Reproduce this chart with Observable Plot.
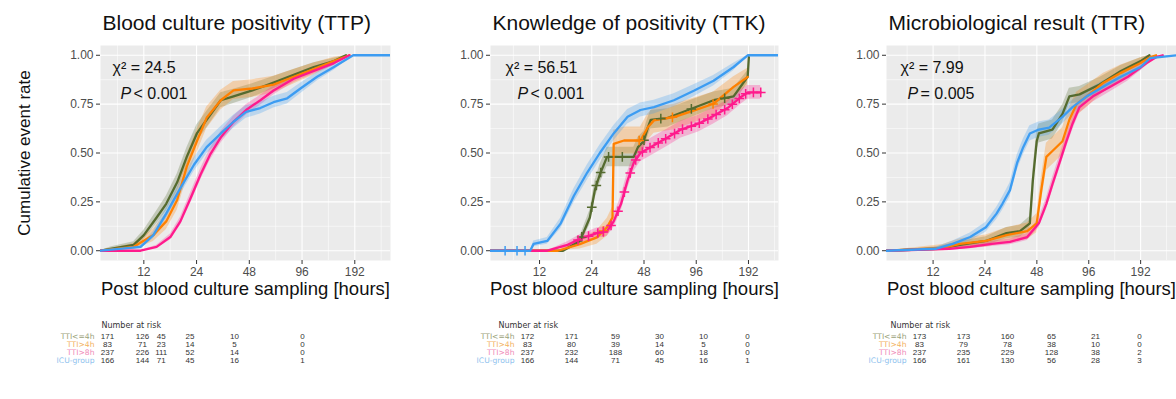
<!DOCTYPE html>
<html><head><meta charset="utf-8">
<script src="https://cdn.jsdelivr.net/npm/d3@7"></script>
<script src="https://cdn.jsdelivr.net/npm/@observablehq/plot@0.6"></script>
<style>
body{margin:0;background:#fff;}
#wrap{position:relative;width:1176px;height:399px;overflow:hidden;background:#fff;}
#wrap svg{position:absolute;overflow:visible;}
</style></head><body><div id="wrap"></div>
<script>
// ---------- data ----------
const groups = ["TTI<=4h", "TTI>4h", "TTI>8h", "ICU-group"];
const lineColors = ["#556b2f", "#ff8000", "#ff1a8c", "#3c9cf2"];
const labelColors = ["#9aa27a", "#f3b25e", "#f08bb8", "#8ec2ee"];
const titles = ["Blood culture positivity (TTP)", "Knowledge of positivity (TTK)", "Microbiological result (TTR)"];
const chiLabels = ["χ² = 24.5", "χ² = 56.51", "χ² = 7.99"];
const pLabels = ["< 0.001", "< 0.001", "= 0.005"];
const xBreaks = [12, 24, 48, 96, 192];
const yBreaks = [0, 0.25, 0.5, 0.75, 1];
const riskTimes = [0, 12, 24, 48, 96, 192];

// Panel 1: TTP (hours, cumulative event rate)
const ttpOliveT  = [6.8, 7.75, 10.5, 12, 14.2, 16.1, 18.6, 21.1, 24.1, 27.4, 33, 39, 50, 66, 86, 112, 146, 171];
const ttpOliveV  = [0, 0.01, 0.03, 0.08, 0.17, 0.24, 0.35, 0.48, 0.60, 0.67, 0.77, 0.79, 0.82, 0.86, 0.90, 0.94, 0.97, 1.0];
const ttpOrangeT = [6.8, 10.5, 13.6, 16.1, 18.6, 21.1, 24.1, 27.4, 33, 39, 50, 66, 86, 112, 146, 179];
const ttpOrangeV = [0, 0.02, 0.08, 0.15, 0.26, 0.43, 0.56, 0.68, 0.77, 0.82, 0.83, 0.85, 0.89, 0.93, 0.97, 1.0];
const ttpPinkT   = [6.8, 11.5, 14.2, 17.0, 19.4, 22.2, 25.3, 28.6, 33, 39, 46, 55.5, 66, 86, 112, 146, 179];
const ttpPinkV   = [0, 0, 0.02, 0.07, 0.15, 0.27, 0.39, 0.49, 0.58, 0.66, 0.72, 0.77, 0.82, 0.88, 0.92, 0.96, 1.0];
const ttpBlueT   = [6.8, 11.5, 13.6, 16.1, 19.4, 23.2, 27.4, 33, 39, 46, 55.5, 66, 79, 94, 117, 146, 188, 307];
const ttpBlueV   = [0, 0.02, 0.08, 0.19, 0.32, 0.44, 0.53, 0.60, 0.66, 0.71, 0.73, 0.76, 0.78, 0.83, 0.89, 0.94, 1.0, 1.0];
const ttpBand    = [0.045, 0.06, 0.03, 0.035];

// Panel 2: TTK
const ttkOliveT  = [6.26, 16.4, 20.5, 23.4, 25.0, 26.7, 29.4, 41.9, 44.3, 47.8, 50.5, 52.5, 65.9, 86.2, 120.8, 157.6, 190, 193];
const ttkOliveV  = [0, 0, 0.05, 0.17, 0.31, 0.39, 0.48, 0.48, 0.53, 0.56, 0.63, 0.67, 0.68, 0.72, 0.77, 0.79, 0.89, 0.99];
const ttkOrangeT = [6.26, 15.3, 20.5, 25.7, 29.4, 31.6, 32.1, 36.8, 45.8, 50.5, 54.8, 71.4, 93.6, 120.8, 157.6, 190];
const ttkOrangeV = [0, 0, 0.034, 0.068, 0.12, 0.17, 0.547, 0.564, 0.564, 0.632, 0.667, 0.684, 0.718, 0.752, 0.838, 0.889];
const ttkPinkT   = [6.26, 13.3, 17.4, 20.5, 25.7, 29.4, 32.1, 35.4, 38.6, 41.9, 45.8, 54.8, 65.9, 78.5, 98.9, 120.8, 145.4, 173, 190, 226];
const ttkPinkV   = [0, 0, 0.03, 0.06, 0.09, 0.10, 0.15, 0.24, 0.36, 0.45, 0.50, 0.54, 0.58, 0.62, 0.65, 0.69, 0.73, 0.785, 0.81, 0.81];
const ttkBlueT   = [6.26, 10.6, 11.1, 13.3, 15.9, 18.9, 22.6, 26.7, 32.1, 38.6, 45.8, 54.8, 71.4, 93.6, 120.8, 157.6, 190, 286];
const ttkBlueV   = [0, 0, 0.035, 0.05, 0.14, 0.28, 0.40, 0.50, 0.60, 0.685, 0.72, 0.735, 0.77, 0.82, 0.87, 0.94, 1.0, 1.0];
const ttkBand    = [0.05, 0.07, 0.045, 0.04];
const ttkOliveCensor  = [21, 24, 25.5, 27, 30, 36, 48, 60, 90, 140];
const ttkOrangeCensor = [28, 45, 70, 120];
const ttkPinkCensor   = [20, 23, 26, 28, 31, 34, 37, 40, 43, 47, 52, 58, 64, 72, 80, 90, 100, 112, 125, 140, 155, 170, 185, 205, 226];
const ttkBlueCensor   = [7.6, 8.9, 9.9];

// Panel 3: TTR
const ttrOliveT  = [6.45, 12.7, 17.2, 24.3, 32.0, 38.3, 43.7, 45.5, 47.9, 49.3, 59.1, 67.6, 74.1, 84.9, 111, 147.5, 192, 216];
const ttrOliveV  = [0, 0.01, 0.03, 0.05, 0.09, 0.10, 0.14, 0.36, 0.56, 0.60, 0.62, 0.70, 0.79, 0.80, 0.85, 0.92, 0.97, 1.0];
const ttrOrangeT = [6.45, 13.7, 17.2, 24.3, 32.0, 42.2, 47.9, 50.9, 54.5, 59.1, 67.6, 74.1, 81.6, 93.5, 116.9, 147.5, 192, 218, 236];
const ttrOrangeV = [0, 0.015, 0.035, 0.05, 0.08, 0.10, 0.14, 0.31, 0.48, 0.51, 0.56, 0.67, 0.75, 0.79, 0.86, 0.91, 0.96, 0.99, 1.0];
const ttrPinkT   = [6.45, 14.9, 19.7, 26.3, 33.5, 42.2, 49.3, 54.5, 59.1, 64.9, 71.2, 77.3, 84.9, 101.5, 128.7, 162.1, 208, 236, 258];
const ttrPinkV   = [0, 0.01, 0.02, 0.035, 0.045, 0.07, 0.14, 0.24, 0.34, 0.45, 0.56, 0.65, 0.735, 0.79, 0.84, 0.89, 0.96, 0.99, 1.0];
const ttrBlueT   = [6.45, 12.4, 15.6, 19.7, 24.3, 28.0, 30.3, 33.5, 36.9, 40.0, 43.7, 49.3, 56.6, 67.6, 77.3, 93.5, 116.9, 147.5, 192, 218, 310];
const ttrBlueV   = [0, 0.01, 0.035, 0.07, 0.12, 0.19, 0.24, 0.31, 0.45, 0.53, 0.60, 0.62, 0.63, 0.685, 0.735, 0.79, 0.84, 0.89, 0.94, 0.985, 1.0];
const ttrBand    = [0.05, 0.07, 0.035, 0.04];

// Number at risk tables (rows = groups, columns = riskTimes)
const ttpRisk = [[171, 126, 45, 25, 10, 0], [83, 71, 23, 14, 5, 0], [237, 226, 111, 52, 14, 0], [166, 144, 71, 45, 16, 1]];
const ttkRisk = [[172, 171, 59, 30, 10, 0], [83, 80, 39, 14, 5, 0], [237, 232, 188, 60, 18, 0], [166, 144, 71, 45, 16, 1]];
const ttrRisk = [[173, 173, 160, 65, 21, 0], [83, 79, 78, 38, 10, 0], [237, 235, 229, 128, 38, 2], [166, 161, 130, 56, 28, 3]];

// ---------- build ----------
const FONT = "'Liberation Sans', Arial, Helvetica, sans-serif";
const WIDE = "'DejaVu Sans', 'Liberation Sans', sans-serif";
const wrap = document.getElementById("wrap");
const PANEL_H = 305, M_TOP = 45, M_BOTTOM = 45, FRAME_H = PANEL_H - M_TOP - M_BOTTOM;

function series(T, V, g, hw) {
  return T.map((t, i) => {
    const v = V[i];
    const w = hw * Math.sqrt(Math.max(0, 4 * v * (1 - v)));
    return {t, v, g, lo: Math.max(0, v - w), hi: Math.min(1, v + w)};
  });
}
function valueAt(T, V, t) {
  const i = d3.bisectRight(T, t);
  if (i <= 0) return V[0];
  if (i >= T.length) return V[V.length - 1];
  const f = (t - T[i - 1]) / (T[i] - T[i - 1]);
  return V[i - 1] + f * (V[i] - V[i - 1]);
}
const minorX = [xBreaks[0] / Math.SQRT2, ...d3.pairs(xBreaks).map(([a, b]) => Math.sqrt(a * b)), xBreaks[xBreaks.length - 1] * Math.SQRT2];
const minorY = d3.pairs(yBreaks).map(([a, b]) => (a + b) / 2);

function panel({idx, curves, bands, censors, domain, left, ml, mr, chiDx, pDx, yTitle}) {
  const data = curves.map(([T, V], k) => series(T, V, k, bands[k]));
  const marks = [
    Plot.frame({fill: "#ebebeb", stroke: null}),
    Plot.gridY(minorY, {stroke: "#fff", strokeOpacity: 1, strokeWidth: 0.55}),
    Plot.gridX(minorX, {stroke: "#fff", strokeOpacity: 1, strokeWidth: 0.55}),
    Plot.gridY(yBreaks, {stroke: "#fff", strokeOpacity: 1, strokeWidth: 1.1}),
    Plot.gridX(xBreaks, {stroke: "#fff", strokeOpacity: 1, strokeWidth: 1.1}),
  ];
  data.forEach((d, k) => marks.push(Plot.areaY(d, {x: "t", y1: "lo", y2: "hi", fill: lineColors[k], fillOpacity: 0.27, clip: true})));
  data.forEach((d, k) => marks.push(Plot.line(d, {x: "t", y: "v", stroke: lineColors[k], strokeWidth: 2.3, clip: true})));
  if (censors) {
    censors.forEach((C, k) => {
      const [T, V] = curves[k];
      const pts = C.map(t => ({t, v: valueAt(T, V, t)}));
      marks.push(Plot.dot(pts, {x: "t", y: "v", symbol: "plus", r: 3.2, stroke: lineColors[k], strokeWidth: 1.5, clip: true}));
    });
  }
  marks.push(
    Plot.axisY(yBreaks, {tickFormat: d3.format(".2f"), tickSize: 4, tickPadding: 3, fontSize: 12, fill: "#4d4d4d", stroke: "#333", label: null}),
    Plot.tickX(xBreaks, {x: d => d, stroke: "#333", insetTop: FRAME_H, insetBottom: -4}),
    Plot.text(xBreaks, {x: d => d, frameAnchor: "bottom", lineAnchor: "middle", dy: 12, text: d => String(d), fontSize: 12, fill: "#4d4d4d"}),
    Plot.text([titles[idx]], {frameAnchor: "top-left", lineAnchor: "middle", text: d => d, textAnchor: "start", dx: 2, dy: -22, fontSize: 21, fill: "#111"}),
    Plot.text(["Post blood culture sampling [hours]"], {frameAnchor: "bottom", lineAnchor: "middle", text: d => d, dy: 29, fontSize: 18.5, fill: "#111"}),
    Plot.text([chiLabels[idx]], {frameAnchor: "top-left", lineAnchor: "middle", text: d => d, textAnchor: "start", dx: chiDx, dy: 22, fontSize: 16, fill: "#111"}),
    Plot.text(["P"], {frameAnchor: "top-left", lineAnchor: "middle", text: d => d, textAnchor: "start", dx: pDx, dy: 48, fontSize: 16, fontStyle: "italic", fill: "#111"}),
    Plot.text([pLabels[idx]], {frameAnchor: "top-left", lineAnchor: "middle", text: d => d, textAnchor: "start", dx: pDx + 13, dy: 48, fontSize: 16, fill: "#111"})
  );
  if (yTitle) marks.push(Plot.text([yTitle], {frameAnchor: "left", textAnchor: "middle", lineAnchor: "middle", text: d => d, rotate: -90, dx: -76, fontSize: 17, fill: "#111"}));
  const svg = Plot.plot({
    width: 392, height: PANEL_H, marginLeft: ml, marginRight: mr, marginTop: M_TOP, marginBottom: M_BOTTOM,
    x: {type: "log", domain, axis: null},
    y: {domain: [-0.05, 1.05], axis: null},
    style: {fontFamily: FONT, background: "transparent", overflow: "visible"},
    marks
  });
  svg.style.left = left + "px";
  svg.style.top = "0px";
  wrap.appendChild(svg);
}

function riskTable({risk, left, ml, mr, xScale}) {
  const rows = [];
  risk.forEach((r, gi) => r.forEach((n, ci) => rows.push({t: riskTimes[ci], row: gi, n})));
  const svg = Plot.plot({
    width: 392, height: 60, marginLeft: ml, marginRight: mr, marginTop: 24, marginBottom: 12,
    x: {...xScale, axis: null},
    y: {domain: [0, groups.length - 1], reverse: true, axis: null},
    style: {fontFamily: FONT, background: "transparent", overflow: "visible"},
    marks: [
      Plot.text(["Number at risk"], {frameAnchor: "top-left", lineAnchor: "middle", text: d => d, textAnchor: "start", dx: -6, dy: -11, fontSize: 8, fontFamily: WIDE, fill: "#333"}),
      Plot.text(groups, {x: () => riskTimes[0], y: (d, i) => i, text: d => d, textAnchor: "end", dx: -13, fontSize: 7.6, fontFamily: WIDE, fill: (d, i) => labelColors[i]}),
      Plot.text(rows, {x: "t", y: "row", text: "n", fontSize: 8, fill: "#333"})
    ]
  });
  svg.style.left = left + "px";
  svg.style.top = "312px";
  wrap.appendChild(svg);
}

panel({idx: 0, curves: [[ttpOliveT, ttpOliveV], [ttpOrangeT, ttpOrangeV], [ttpPinkT, ttpPinkV], [ttpBlueT, ttpBlueV]], bands: ttpBand,
  domain: [6.79, 307], left: 0, ml: 100, mr: 2, chiDx: 12, pDx: 20, yTitle: "Cumulative event rate"});
panel({idx: 1, curves: [[ttkOliveT, ttkOliveV], [ttkOrangeT, ttkOrangeV], [ttkPinkT, ttkPinkV], [ttkBlueT, ttkBlueV]], bands: ttkBand,
  censors: [ttkOliveCensor, ttkOrangeCensor, ttkPinkCensor, ttkBlueCensor],
  domain: [6.26, 286], left: 392, ml: 98, mr: 6, chiDx: 15, pDx: 27});
panel({idx: 2, curves: [[ttrOliveT, ttrOliveV], [ttrOrangeT, ttrOrangeV], [ttrPinkT, ttrPinkV], [ttrBlueT, ttrBlueV]], bands: ttrBand,
  domain: [6.44, 310], left: 784, ml: 102, mr: 0, chiDx: 14, pDx: 21});

riskTable({risk: ttpRisk, left: 0, ml: 107, mr: 90, xScale: {type: "pow", exponent: 0.62, domain: [0, 192]}});
riskTable({risk: ttkRisk, left: 392, ml: 112, mr: 15, xScale: {type: "point", domain: riskTimes}});
riskTable({risk: ttrRisk, left: 784, ml: 112, mr: 14, xScale: {type: "point", domain: riskTimes}});
</script></body></html>
